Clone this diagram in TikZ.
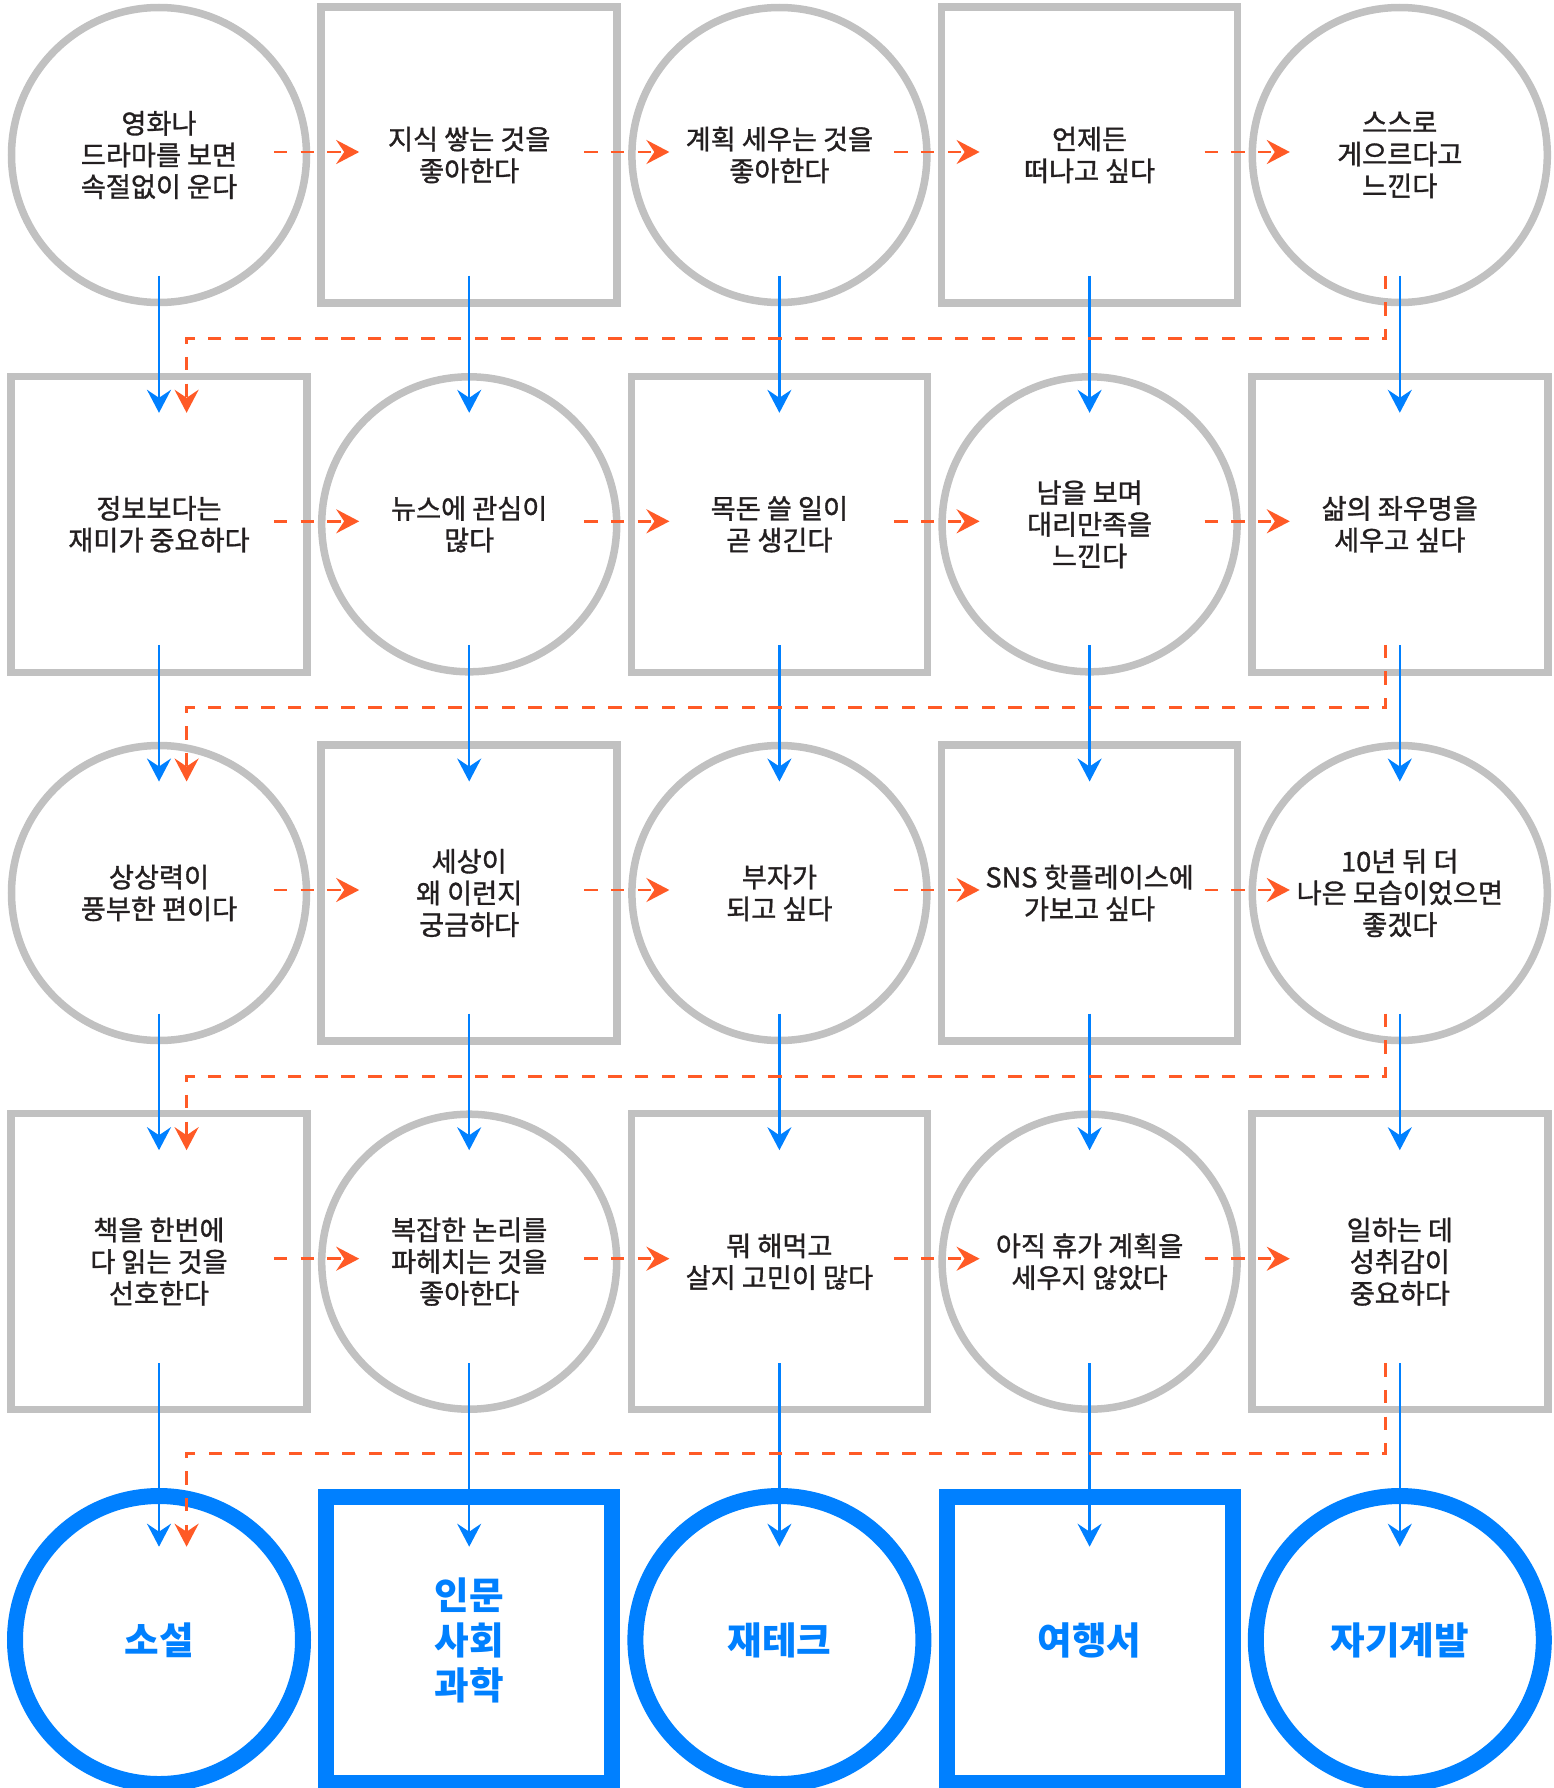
\documentclass[tikz,border=0pt]{standalone}
\usepackage{fontspec}
\setmainfont{Noto Sans CJK KR}
\newfontfamily\medfont{Noto Sans CJK KR}[RawFeature={embolden=1.2}]
\usetikzlibrary{arrows.meta}
\definecolor{grline}{HTML}{C1C1C1}
\definecolor{blline}{HTML}{0080FF}
\definecolor{orline}{HTML}{FF5A26}
\definecolor{txt}{HTML}{231F20}
\tikzset{
  gbase/.style={draw=grline, line width=3.75pt, inner sep=0pt, align=center,
    text=txt, font=\medfont\fontsize{13.6pt}{15.85pt}\selectfont},
  gcirc/.style={gbase, circle, minimum size=147.5pt},
  gsq/.style={gbase, rectangle, minimum width=148pt, minimum height=148pt},
  bbase/.style={draw=blline, line width=8pt, inner sep=0pt, align=center,
    text=blline, font=\fontsize{18.8pt}{22.5pt}\selectfont\bfseries},
  bcirc/.style={bbase, circle, minimum size=144pt},
  bsq/.style={bbase, rectangle, minimum width=143pt, minimum height=143pt},
  headtip/.tip={Stealth[length=11.5pt, width=12pt, inset=4pt]},
  barr/.style={draw=blline, line width=1.2pt, -headtip},
  oarr/.style={draw=orline, line width=1.35pt, dash pattern=on 6.67pt off 6.67pt, -headtip},
}
\begin{document}
\begin{tikzpicture}[x=0.5pt, y=-0.5pt]
\fill[white] (0,0) rectangle (1553,1788);
\useasboundingbox (0,0) rectangle (1553,1788);

% row 1
\node[gcirc] (n-1-1) at (159,155)    {영화나\\드라마를 보면\\속절없이 운다};
\node[gsq]   (n-1-2) at (469.2,155)  {지식 쌓는 것을\\좋아한다};
\node[gcirc] (n-1-3) at (779.4,155)  {계획 세우는 것을\\좋아한다};
\node[gsq]   (n-1-4) at (1089.6,155) {언제든\\떠나고 싶다};
\node[gcirc] (n-1-5) at (1399.8,155) {스스로\\게으르다고\\느낀다};
% row 2
\node[gsq]   (n-2-1) at (159,524.3)    {정보보다는\\재미가 중요하다};
\node[gcirc] (n-2-2) at (469.2,524.3)  {뉴스에 관심이\\많다};
\node[gsq]   (n-2-3) at (779.4,524.3)  {목돈 쓸 일이\\곧 생긴다};
\node[gcirc] (n-2-4) at (1089.6,524.3) {남을 보며\\대리만족을\\느낀다};
\node[gsq]   (n-2-5) at (1399.8,524.3) {삶의 좌우명을\\세우고 싶다};
% row 3
\node[gcirc] (n-3-1) at (159,893)    {상상력이\\풍부한 편이다};
\node[gsq]   (n-3-2) at (469.2,893)  {세상이\\왜 이런지\\궁금하다};
\node[gcirc] (n-3-3) at (779.4,893)  {부자가\\되고 싶다};
\node[gsq]   (n-3-4) at (1089.6,893) {SNS 핫플레이스에\\가보고 싶다};
\node[gcirc] (n-3-5) at (1399.8,893) {10년 뒤 더\\나은 모습이었으면\\좋겠다};
% row 4
\node[gsq]   (n-4-1) at (159,1261.7)    {책을 한번에\\다 읽는 것을\\선호한다};
\node[gcirc] (n-4-2) at (469.2,1261.7)  {복잡한 논리를\\파헤치는 것을\\좋아한다};
\node[gsq]   (n-4-3) at (779.4,1261.7)  {뭐 해먹고\\살지 고민이 많다};
\node[gcirc] (n-4-4) at (1089.6,1261.7) {아직 휴가 계획을\\세우지 않았다};
\node[gsq]   (n-4-5) at (1399.8,1261.7) {일하는 데\\성취감이\\중요하다};
% row 5
\node[bcirc] (n-5-1) at (159,1640)    {소설};
\node[bsq]   (n-5-2) at (469.2,1640)  {인문\\사회\\과학};
\node[bcirc] (n-5-3) at (779.4,1640)  {재테크};
\node[bsq]   (n-5-4) at (1089.6,1640) {여행서};
\node[bcirc] (n-5-5) at (1399.8,1640) {자기계발};

% turning heights of the return lines
\coordinate (m-1) at (0,338.3);
\coordinate (m-2) at (0,707.7);
\coordinate (m-3) at (0,1076.4);
\coordinate (m-4) at (0,1453.3);

% blue vertical arrows
\foreach \r in {1,2,3}{
  \pgfmathtruncatemacro\nr{\r+1}
  \foreach \c in {1,...,5}{
    \draw[barr] ([yshift=-60.25pt]n-\r-\c.center) -- ([yshift=55.75pt]n-\nr-\c.center);
  }
}
\foreach \c in {1,...,5}{
  \draw[barr] ([yshift=-50.8pt]n-4-\c.center) -- ([yshift=46.65pt]n-5-\c.center);
}

% orange horizontal arrows
\foreach \r in {1,...,4}{
  \foreach \c in {1,...,4}{
    \pgfmathtruncatemacro\nc{\c+1}
    \draw[oarr] ([xshift=57.5pt,yshift=1.5pt]n-\r-\c.center) -- ([xshift=-55pt,yshift=1.5pt]n-\r-\nc.center);
  }
}

% orange return lines
\foreach \r in {1,2,3}{
  \pgfmathtruncatemacro\nr{\r+1}
  \coordinate (s-\r) at ([xshift=-7pt,yshift=-60.25pt]n-\r-5.center);
  \coordinate (e-\r) at ([xshift=13.8pt,yshift=55.75pt]n-\nr-1.center);
  \draw[oarr] (s-\r) -- (s-\r |- m-\r) -- (e-\r |- m-\r) -- (e-\r);
}
\coordinate (s-4) at ([xshift=-7pt,yshift=-50.8pt]n-4-5.center);
\coordinate (e-4) at ([xshift=13.8pt,yshift=46.65pt]n-5-1.center);
\draw[oarr] (s-4) -- (s-4 |- m-4) -- (e-4 |- m-4) -- (e-4);
\end{tikzpicture}
\end{document}
